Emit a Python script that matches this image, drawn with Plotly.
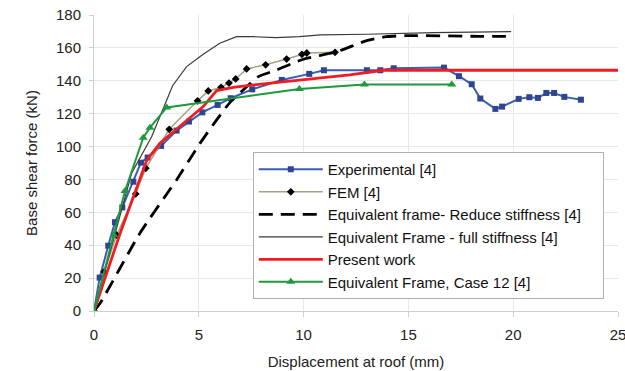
import plotly.graph_objects as go

# Experimental [4]
exp_x = [0, 0.27, 0.68, 1.0, 1.35, 1.88, 2.24, 2.56, 3.2, 3.94, 4.53, 5.17, 5.9, 6.52, 7.55, 8.96, 10.27,
         10.97, 13.02, 13.66, 14.3, 16.7, 17.41, 18.02, 18.43, 19.15, 19.47, 20.26, 20.77, 21.18, 21.58,
         21.95, 22.44, 23.23]
exp_y = [0, 20.3, 39.7, 54, 63, 78.6, 90.2, 93.3, 100.4, 109.7, 115.2, 120.8, 125.3, 129.4, 134.8, 140.5, 144.2,
         146.4, 146.4, 146.4, 147.6, 148, 142.8, 137.9, 129.2, 122.9, 124.3, 129, 130, 129.6, 132.6,
         132.6, 130.2, 128.5]

# FEM [4]
fem_x = [0, 0.49, 1.08, 1.99, 2.47, 3.59, 4.94, 5.45, 6.06, 6.44, 6.76, 7.28, 8.19, 9.19, 9.92, 10.15, 11.5]
fem_y = [0, 23.9, 46.2, 71.2, 86.8, 110.5, 127.8, 133.8, 136.0, 138.6, 141.1, 147.2, 149.7, 153.2, 156.1, 156.9, 157.3]

# Equivalent frame - reduced stiffness [4]
red_x = [0, 0.29, 2.19, 3.63, 3.94, 5.06, 5.85, 6.49, 7.0, 7.84, 8.72, 9.99, 11.58, 13.01, 13.96, 14.92, 18.4, 20.0]
red_y = [0, 4.7, 47.3, 74, 79.7, 102, 116.2, 126.9, 133, 142.5, 146.6, 153.1, 157.7, 164.4, 166.8, 167.5, 167.0, 167.0]

# Equivalent frame - full stiffness [4]
full_x = [0, 1.8, 2.75, 3.47, 3.75, 4.42, 5.21, 6.0, 6.8, 7.6, 8.7, 9.8, 10.8, 13.0, 16.2, 19.9]
full_y = [0, 84, 106, 128, 137, 148.6, 156.1, 162.8, 166.8, 166.8, 166.2, 166.8, 167.9, 168.3, 169.3, 169.9]

# Present work
pw_x = [0, 1.24, 1.88, 2.52, 3.15, 3.94, 4.58, 5.21, 5.85, 6.65, 7.6, 9.03, 10.78, 12.2, 13.8, 16.0, 25.0]
pw_y = [0, 47, 69.5, 91.8, 102, 110.5, 117.2, 124.3, 134.0, 136, 137.5, 139.5, 141.5, 143.6, 146.4, 146.4, 146.4]

# Equivalent Frame, Case 12 [4]
c12_x = [0, 0.95, 1.48, 2.35, 2.67, 3.47, 9.8, 12.9, 17.07]
c12_y = [0, 46, 73, 105.4, 111.5, 123.8, 135, 137.8, 137.8]

names = ["Experimental [4]", "FEM [4]", "Equivalent frame- Reduce stiffness [4]\u00a0\u00a0\u00a0\u00a0",
         "Equivalent Frame - full stiffness [4]", "Present work", "Equivalent Frame, Case 12 [4]"]

fig = go.Figure()
fig.add_trace(go.Scatter(x=exp_x, y=exp_y, mode="lines+markers", name=names[0],
                         line=dict(color="#3b5cb0", width=2),
                         marker=dict(symbol="square", size=6, color="#2d4592")))
fig.add_trace(go.Scatter(x=fem_x, y=fem_y, mode="lines+markers", name=names[1],
                         line=dict(color="#a89f86", width=1.5),
                         marker=dict(symbol="diamond", size=6, color="#000000")))
fig.add_trace(go.Scatter(x=red_x, y=red_y, mode="lines", name=names[2],
                         line=dict(color="#000000", width=2.8, dash="14px,8px", shape="spline", smoothing=0.6)))
fig.add_trace(go.Scatter(x=full_x, y=full_y, mode="lines", name=names[3],
                         line=dict(color="#3a3a3a", width=1.2)))
fig.add_trace(go.Scatter(x=pw_x, y=pw_y, mode="lines", name=names[4],
                         line=dict(color="#ee1d23", width=2.8)))
fig.add_trace(go.Scatter(x=c12_x, y=c12_y, mode="lines+markers", name=names[5],
                         line=dict(color="#1c9a3c", width=2),
                         marker=dict(symbol="triangle-up", size=8, color="#1c9a3c")))

font_family = "Liberation Sans, Arial, sans-serif"
fig.update_layout(
    width=625, height=371,
    margin=dict(l=94, r=7, t=15, b=60),
    paper_bgcolor="white", plot_bgcolor="white",
    font=dict(family=font_family, size=15, color="#222"),
    showlegend=True,
    legend=dict(x=0.303, y=0.537, xanchor="left", yanchor="top",
                bgcolor="white", bordercolor="#b0b0b0", borderwidth=1,
                font=dict(size=15, color="#111"), tracegroupgap=0,
                itemwidth=64),
    xaxis=dict(range=[0, 25], tickvals=[0, 5, 10, 15, 20, 25], showgrid=True, gridcolor="#e8e8e8",
               zeroline=False, showline=True, linecolor="#cfcfcf", ticks="outside", ticklen=5,
               tickcolor="#cfcfcf", ticklabelstandoff=5, automargin=False, ticklabeloverflow="allow",
               tickfont=dict(size=15),
               title=dict(text="Displacement at roof (mm)", font=dict(size=15), standoff=14)),
    yaxis=dict(range=[0, 180], tickvals=list(range(0, 181, 20)), showgrid=True, gridcolor="#e8e8e8",
               zeroline=False, showline=True, linecolor="#cfcfcf", ticks="outside", ticklen=4,
               tickcolor="#cfcfcf", ticklabelstandoff=5, automargin=False, ticklabeloverflow="allow",
               tickfont=dict(size=15),
               title=dict(text="Base shear force (kN)", font=dict(size=15), standoff=14)),
)

fig.write_html("out.html")
